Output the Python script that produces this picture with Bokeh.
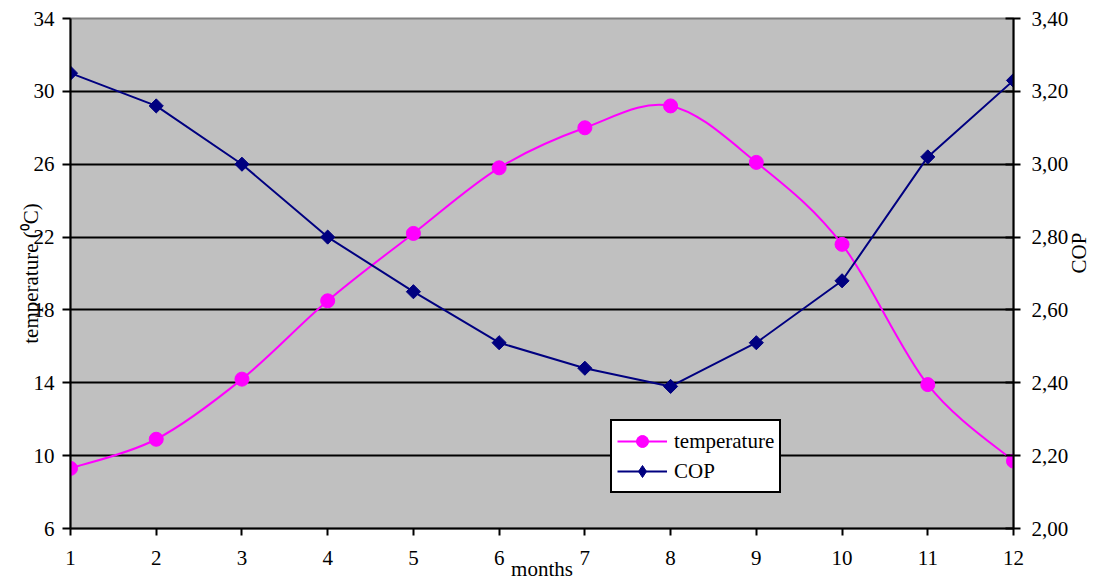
from bokeh.plotting import figure
from bokeh.models import (Range1d, LinearAxis, FixedTicker, CustomJSTickFormatter,
                          Legend, LegendItem, ColumnDataSource)
from bokeh.embed import file_html
from bokeh.resources import INLINE
import math

# ---- data ----
months = [1, 2, 3, 4, 5, 6, 7, 8, 9, 10, 11, 12]
temperature = [9.3, 10.9, 14.2, 18.5, 22.2, 25.8, 28.0, 29.2, 26.1, 21.6, 13.9, 9.7]
cop = [3.25, 3.16, 3.00, 2.80, 2.65, 2.51, 2.44, 2.39, 2.51, 2.68, 3.02, 3.23]
temp_ticks = [6, 10, 14, 18, 22, 26, 30, 34]
cop_ticks = [2.00, 2.20, 2.40, 2.60, 2.80, 3.00, 3.20, 3.40]

FONT = "Times New Roman"
FS = "21px"
MAGENTA = "#FF00FF"
NAVY = "#000080"

p = figure(width=1106, height=583, output_backend="svg", toolbar_location=None,
           x_range=Range1d(1, 12), y_range=Range1d(6, 34),
           min_border_left=70, min_border_right=91, min_border_top=18, min_border_bottom=55)
p.background_fill_color = "#C0C0C0"
p.border_fill_color = "white"
p.outline_line_color = "#808080"
p.outline_line_width = 2

p.extra_y_ranges = {"cop": Range1d(2.0, 3.4)}

p.xaxis.ticker = FixedTicker(ticks=months)
p.yaxis.ticker = FixedTicker(ticks=temp_ticks)
for ax in (p.xaxis[0], p.yaxis[0]):
    ax.axis_line_color = "black"
    ax.axis_line_width = 2
    ax.major_tick_line_color = "black"
    ax.major_tick_line_width = 2
    ax.major_tick_in = 0
    ax.minor_tick_line_color = None
    ax.major_label_text_font = FONT
    ax.major_label_text_font_size = FS
    ax.major_label_text_color = "black"
    ax.axis_label_text_font = FONT
    ax.axis_label_text_font_size = FS
    ax.axis_label_text_font_style = "normal"
    ax.axis_label_text_color = "black"

p.xaxis.major_tick_out = 7
p.xaxis.major_label_standoff = 15
p.xaxis.axis_label = "months"
p.xaxis.axis_label_standoff = -11

p.yaxis.major_tick_out = 8
p.yaxis.major_label_standoff = 8
p.yaxis.axis_label = "temperature (⁰C)"
p.yaxis.axis_label_standoff = -12

ra = LinearAxis(y_range_name="cop", ticker=FixedTicker(ticks=cop_ticks),
                formatter=CustomJSTickFormatter(code="return tick.toFixed(2).replace('.', ',');"),
                axis_label="COP")
ra.axis_line_color = "black"
ra.axis_line_width = 2
ra.major_tick_line_color = "black"
ra.major_tick_line_width = 2
ra.major_tick_in = 8
ra.major_tick_out = 7
ra.minor_tick_line_color = None
ra.major_label_standoff = 11
ra.major_label_text_font = FONT
ra.major_label_text_font_size = FS
ra.major_label_text_color = "black"
ra.axis_label_text_font = FONT
ra.axis_label_text_font_size = FS
ra.axis_label_text_font_style = "normal"
ra.axis_label_text_color = "black"
ra.axis_label_standoff = 8
ra.axis_label_orientation = math.pi / 2
p.add_layout(ra, "right")

p.xgrid.grid_line_color = None
p.ygrid.grid_line_color = "black"
p.ygrid.grid_line_width = 2
p.ygrid.ticker = FixedTicker(ticks=temp_ticks)

# smoothed temperature line: Bezier segments through the data points
n = len(months)
x0, y0, x1, y1, cx0, cy0, cx1, cy1 = [], [], [], [], [], [], [], []
for i in range(n - 1):
    im1 = max(i - 1, 0)
    ip2 = min(i + 2, n - 1)
    x0.append(months[i]); y0.append(temperature[i])
    x1.append(months[i + 1]); y1.append(temperature[i + 1])
    cx0.append(months[i] + (months[i + 1] - months[im1]) / 6)
    cy0.append(temperature[i] + (temperature[i + 1] - temperature[im1]) / 6)
    cx1.append(months[i + 1] - (months[ip2] - months[i]) / 6)
    cy1.append(temperature[i + 1] - (temperature[ip2] - temperature[i]) / 6)
bsrc = ColumnDataSource(dict(x0=x0, y0=y0, x1=x1, y1=y1, cx0=cx0, cy0=cy0, cx1=cx1, cy1=cy1))
t_line = p.bezier(x0="x0", y0="y0", x1="x1", y1="y1", cx0="cx0", cy0="cy0", cx1="cx1", cy1="cy1",
                  source=bsrc, line_color=MAGENTA, line_width=2)
t_pts = p.scatter(months, temperature, marker="circle", size=14, fill_color=MAGENTA,
                  line_color=MAGENTA)

c_line = p.line(months, cop, y_range_name="cop", line_color=NAVY, line_width=2)
# diamond glyph (used by the legend), covered by the rotated squares on the plot
c_leg = p.scatter(months, cop, y_range_name="cop", marker="diamond", size=12,
                  fill_color=NAVY, line_color=NAVY)
c_pts = p.scatter(months, cop, y_range_name="cop", marker="square", angle=math.pi / 4, size=10,
                  fill_color=NAVY, line_color=NAVY)

legend = Legend(items=[LegendItem(label="temperature", renderers=[t_line, t_pts]),
                       LegendItem(label="COP", renderers=[c_line, c_leg])],
                location=(540, 35))
legend.label_text_font = FONT
legend.label_text_font_size = FS
legend.label_text_color = "black"
legend.border_line_color = "black"
legend.border_line_width = 2
legend.border_line_alpha = 1
legend.background_fill_color = "white"
legend.background_fill_alpha = 1
legend.glyph_width = 50
legend.glyph_height = 30
legend.label_height = 30
legend.label_standoff = 7
legend.padding = 5
legend.spacing = 0
legend.margin = 0
p.add_layout(legend, "center")

open("out.html", "w").write(file_html(p, INLINE))
